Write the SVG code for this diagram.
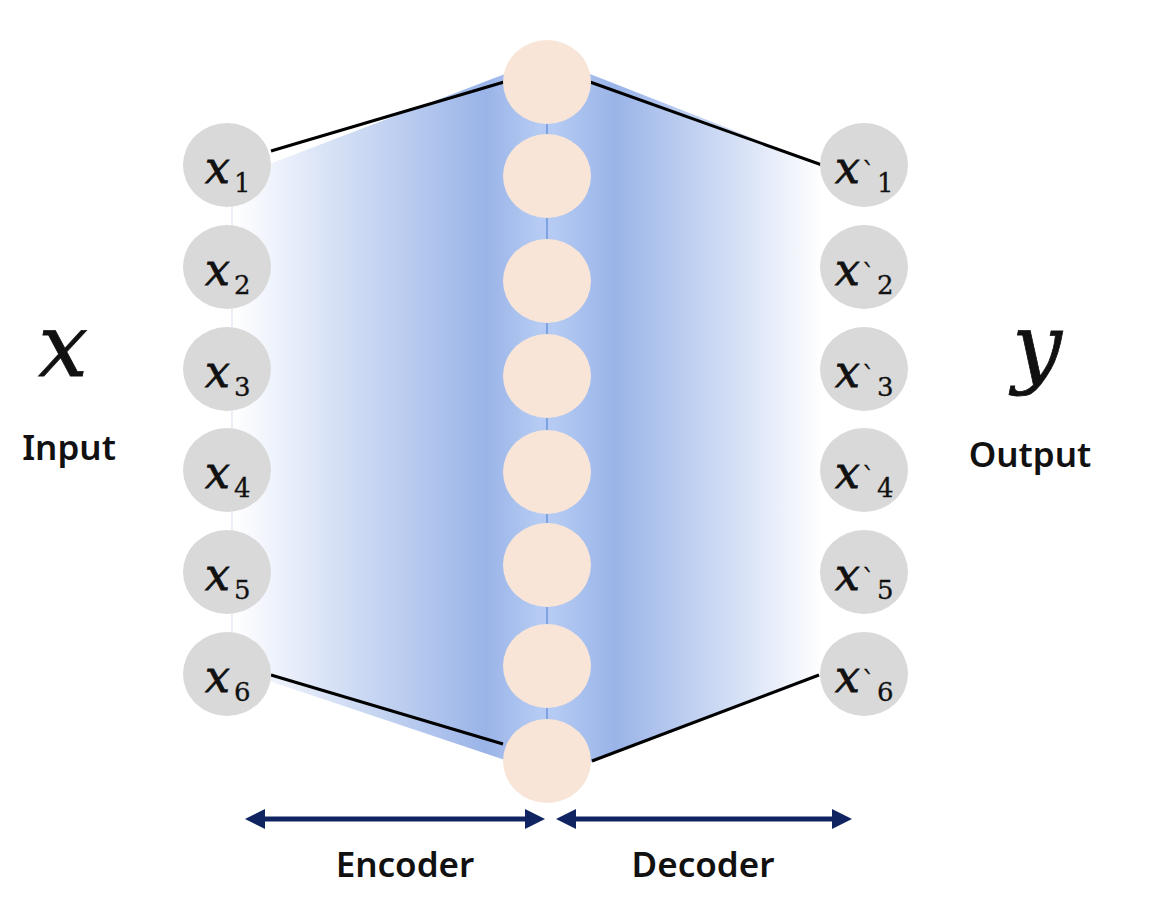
<svg xmlns="http://www.w3.org/2000/svg" width="1156" height="923" viewBox="0 0 1156 923">
<style>
.in{fill:#d9d9d9}
.hid{fill:#f8e5d8}
.edge{stroke:#000;stroke-width:3;fill:none}
.mx{font-family:"DejaVu Serif",serif;font-style:italic;fill:#111;stroke:#111;stroke-width:0.8}
.sub{font-family:"DejaVu Serif",serif;font-style:normal;font-size:26px;fill:#111;stroke:#111;stroke-width:0.3}
.lbl{font-family:"Noto Sans","Liberation Sans",sans-serif;font-weight:600;font-size:35px;fill:#111}
.arr{stroke:#0f2460;stroke-width:5;fill:none}
</style>
<defs>
<linearGradient id="g" gradientUnits="userSpaceOnUse" x1="232" y1="0" x2="822" y2="0">
<stop offset="0" stop-color="#ffffff"/>
<stop offset="0.43" stop-color="#9ab4e8"/>
<stop offset="0.52" stop-color="#b5cbf3"/>
<stop offset="0.545" stop-color="#b5cbf3"/>
<stop offset="0.65" stop-color="#9ab4e8"/>
<stop offset="1" stop-color="#ffffff"/>
</linearGradient>
<marker id="ah" viewBox="0 0 20 20" refX="10" refY="10" markerWidth="20" markerHeight="20" markerUnits="userSpaceOnUse" orient="auto-start-reverse">
<path d="M0,0 L20,10 L0,20 Z" fill="#0f2460"/>
</marker>
</defs>

<g id="band">
<polygon points="232,172 272,163 505,74 590,74 822,165 822,676 592,762 505,760 272,682 232,668" fill="url(#g)"/>
<line x1="232" y1="165" x2="232" y2="674" stroke="#e3e8f5" stroke-width="1.5"/>
<line x1="547" y1="82" x2="547" y2="761" stroke="#7fa3e0" stroke-width="2"/>
</g>

<g id="connectors">
<line class="edge" x1="271" y1="151" x2="504" y2="82"/>
<line class="edge" x1="590" y1="82" x2="822" y2="165"/>
<line class="edge" x1="271" y1="675" x2="503" y2="744"/>
<line class="edge" x1="592" y1="761" x2="819" y2="675"/>
<line class="arr" x1="255" y1="819" x2="535" y2="819" marker-start="url(#ah)" marker-end="url(#ah)"/>
<line class="arr" x1="566" y1="819" x2="842" y2="819" marker-start="url(#ah)" marker-end="url(#ah)"/>
</g>

<g id="hidden">
<ellipse class="hid" cx="547" cy="82" rx="44" ry="42"/>
<ellipse class="hid" cx="547" cy="176" rx="44" ry="42"/>
<ellipse class="hid" cx="547" cy="281" rx="44" ry="42"/>
<ellipse class="hid" cx="547" cy="376" rx="44" ry="42"/>
<ellipse class="hid" cx="547" cy="472" rx="44" ry="42"/>
<ellipse class="hid" cx="547" cy="565" rx="44" ry="42"/>
<ellipse class="hid" cx="547" cy="666" rx="44" ry="42"/>
<ellipse class="hid" cx="547" cy="761" rx="44" ry="42"/>
</g>

<g id="x1"><ellipse class="in" cx="227" cy="165" rx="44" ry="42"/><text class="mx" font-size="44" x="205" y="183">x</text><text class="sub" x="234" y="192">1</text></g>
<g id="x2"><ellipse class="in" cx="227" cy="267" rx="44" ry="42"/><text class="mx" font-size="44" x="205" y="285">x</text><text class="sub" x="234" y="294">2</text></g>
<g id="x3"><ellipse class="in" cx="227" cy="369" rx="44" ry="42"/><text class="mx" font-size="44" x="205" y="387">x</text><text class="sub" x="234" y="396">3</text></g>
<g id="x4"><ellipse class="in" cx="227" cy="470" rx="44" ry="42"/><text class="mx" font-size="44" x="205" y="488">x</text><text class="sub" x="234" y="497">4</text></g>
<g id="x5"><ellipse class="in" cx="227" cy="572" rx="44" ry="42"/><text class="mx" font-size="44" x="205" y="590">x</text><text class="sub" x="234" y="599">5</text></g>
<g id="x6"><ellipse class="in" cx="227" cy="674" rx="44" ry="42"/><text class="mx" font-size="44" x="205" y="692">x</text><text class="sub" x="234" y="701">6</text></g>

<g id="y1"><ellipse class="in" cx="864" cy="165" rx="44" ry="42"/><text class="mx" font-size="44" x="835" y="183">x</text><text class="sub" x="862" y="181">`</text><text class="sub" x="877" y="192">1</text></g>
<g id="y2"><ellipse class="in" cx="864" cy="267" rx="44" ry="42"/><text class="mx" font-size="44" x="835" y="285">x</text><text class="sub" x="862" y="283">`</text><text class="sub" x="877" y="294">2</text></g>
<g id="y3"><ellipse class="in" cx="864" cy="369" rx="44" ry="42"/><text class="mx" font-size="44" x="835" y="387">x</text><text class="sub" x="862" y="385">`</text><text class="sub" x="877" y="396">3</text></g>
<g id="y4"><ellipse class="in" cx="864" cy="470" rx="44" ry="42"/><text class="mx" font-size="44" x="835" y="488">x</text><text class="sub" x="862" y="486">`</text><text class="sub" x="877" y="497">4</text></g>
<g id="y5"><ellipse class="in" cx="864" cy="572" rx="44" ry="42"/><text class="mx" font-size="44" x="835" y="590">x</text><text class="sub" x="862" y="588">`</text><text class="sub" x="877" y="599">5</text></g>
<g id="y6"><ellipse class="in" cx="864" cy="674" rx="44" ry="42"/><text class="mx" font-size="44" x="835" y="692">x</text><text class="sub" x="862" y="690">`</text><text class="sub" x="877" y="701">6</text></g>

<g id="input"><text class="mx" font-size="88" stroke-width="1.6" x="63" y="376" text-anchor="middle">x</text><text class="lbl" x="69" y="460" text-anchor="middle">Input</text></g>
<g id="output"><text class="mx" font-size="88" stroke-width="1.6" x="1037" y="376" text-anchor="middle">y</text><text class="lbl" x="1030" y="467" text-anchor="middle">Output</text></g>
<g id="labels"><text class="lbl" x="405" y="877" text-anchor="middle">Encoder</text><text class="lbl" x="703" y="877" text-anchor="middle">Decoder</text></g>
</svg>
